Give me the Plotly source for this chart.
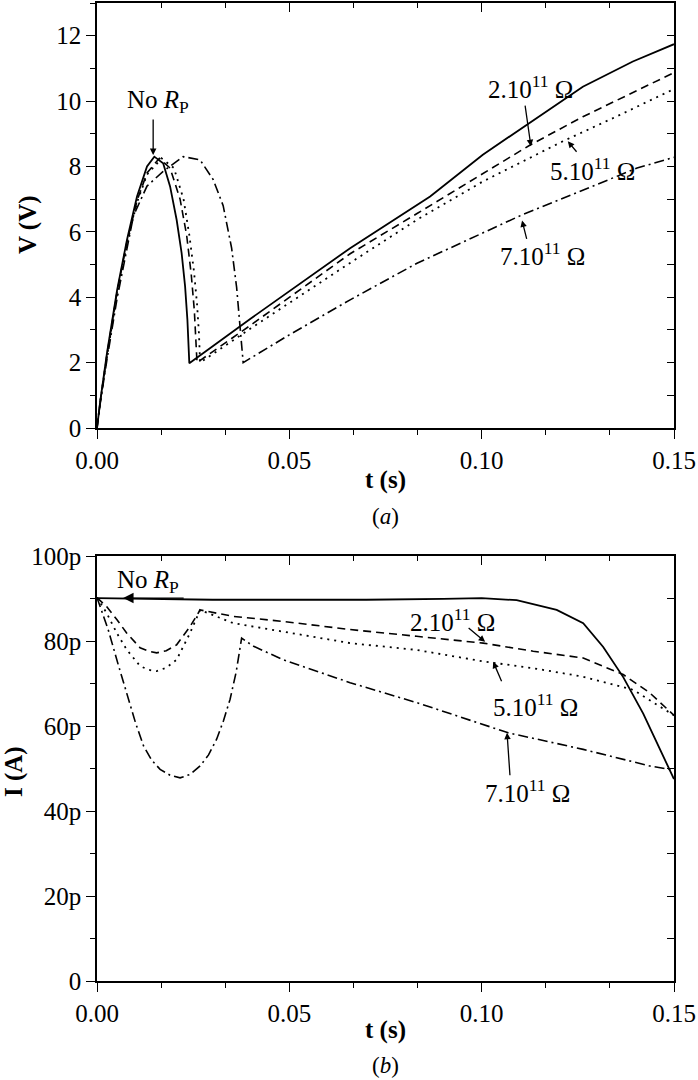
import plotly.graph_objects as go

# ---- panel (a): V(t) ----
ta_norp = [0, 0.0009, 0.0026, 0.0052, 0.0078, 0.0104, 0.013, 0.0149, 0.0172, 0.019, 0.0207, 0.022, 0.0229, 0.0235,
           0.024, 0.04, 0.0658, 0.0866, 0.1003, 0.1124, 0.1263, 0.1393, 0.15]
va_norp = [0, 0.87, 2.3, 4.2, 5.76, 7.08, 8.0, 8.3, 8.1, 7.39, 6.37, 5.35, 4.33, 3.31,
           1.98, 3.35, 5.5, 7.08, 8.36, 9.33, 10.44, 11.21, 11.74]

ta_2e11 = [0, 0.0009, 0.0026, 0.0052, 0.0078, 0.0104, 0.013, 0.0162, 0.019, 0.0216, 0.0233, 0.0245, 0.0253, 0.0258,
           0.026, 0.04, 0.0658, 0.0832, 0.1003, 0.1125, 0.1263, 0.15]
va_2e11 = [0, 0.85, 2.25, 4.15, 5.7, 6.95, 7.8, 8.25, 7.95, 7.0, 5.9, 4.7, 3.6, 2.7,
           2.0, 3.15, 5.33, 6.56, 7.78, 8.65, 9.52, 10.87]

ta_5e11 = [0, 0.0009, 0.0026, 0.0052, 0.0078, 0.0104, 0.013, 0.0168, 0.02, 0.0225, 0.024, 0.0252, 0.026, 0.0265,
           0.0268, 0.04, 0.0658, 0.0832, 0.1003, 0.1117, 0.1211, 0.1351, 0.15]
va_5e11 = [0, 0.84, 2.2, 4.1, 5.65, 6.9, 7.75, 8.25, 7.95, 7.0, 5.9, 4.8, 3.8, 2.9,
           2.0, 3.05, 5.05, 6.37, 7.54, 8.22, 8.77, 9.53, 10.37]

ta_7e11 = [0, 0.0009, 0.0026, 0.0052, 0.0095, 0.013, 0.0172, 0.0224, 0.0268, 0.0302, 0.0328, 0.035, 0.0363, 0.037,
           0.0374, 0.038, 0.05, 0.0658, 0.0832, 0.1105, 0.1404, 0.15]
va_7e11 = [0, 0.8, 2.1, 3.95, 6.5, 7.4, 7.85, 8.3, 8.2, 7.6, 6.8, 5.5, 4.3, 3.3,
           2.9, 2.0, 2.85, 3.92, 5.04, 6.52, 7.95, 8.28]

# ---- panel (b): I(t) in pA ----
tb_norp = [0, 0.01, 0.02, 0.03, 0.05, 0.07, 0.09, 0.1, 0.1091, 0.1143, 0.1195, 0.1264, 0.1316, 0.1368, 0.142, 0.15]
ib_norp = [90.1, 90.0, 89.9, 89.7, 89.7, 89.7, 89.9, 90.1, 89.6, 88.5, 87.3, 84.2, 78.6, 71.5, 62.9, 47.5]

tb_2e11 = [0, 0.0025, 0.0052, 0.0077, 0.0112, 0.0135, 0.0155, 0.018, 0.0207, 0.0242, 0.0268, 0.0354, 0.0484, 0.0658,
           0.0831, 0.1004, 0.1134, 0.1264, 0.1368, 0.1437, 0.15]
ib_2e11 = [90.2, 88.1, 85.0, 81.9, 78.4, 77.6, 77.2, 77.7, 79.1, 83.4, 87.3, 85.8, 84.6, 82.7,
           81.1, 79.5, 77.6, 76.0, 72.1, 67.8, 62.5]

tb_5e11 = [0, 0.0025, 0.0052, 0.0077, 0.0112, 0.0135, 0.0155, 0.018, 0.0207, 0.0242, 0.0268, 0.0354, 0.0484, 0.0658,
           0.0831, 0.1004, 0.1134, 0.1264, 0.1394, 0.15]
ib_5e11 = [90.2, 86.6, 81.8, 78.0, 74.1, 73.2, 72.9, 73.7, 75.6, 81.9, 87.3, 84.2, 82.2, 79.5,
           77.9, 75.2, 73.6, 71.6, 68.5, 62.5]

tb_7e11 = [0, 0.0029, 0.0055, 0.0077, 0.01, 0.0121, 0.0142, 0.0164, 0.019, 0.0216, 0.0242, 0.0268, 0.029, 0.0311,
           0.0329, 0.0346, 0.0362, 0.0376, 0.0406, 0.0484, 0.0658, 0.0831, 0.1069, 0.1264, 0.1437, 0.15]
ib_7e11 = [90.2, 82.7, 74.5, 67.8, 60.8, 55.3, 52.0, 49.8, 48.4, 47.8, 48.6, 50.6, 53.2, 56.9,
           61.3, 66.3, 72.8, 80.7, 78.8, 75.6, 70.2, 65.5, 58.4, 54.5, 50.6, 49.6]

i_ticks = [0, 20, 40, 60, 80, 100]
i_labels = ["0", "20p", "40p", "60p", "80p", "100p"]

FONT = "Liberation Serif"
styles = [("solid", 1.8), ("8px,5px", 1.6), ("2px,5px", 1.8), ("10px,4px,2px,4px", 1.6)]

fig = go.Figure()
for (t, v), (dash, w) in zip([(ta_norp, va_norp), (ta_2e11, va_2e11), (ta_5e11, va_5e11), (ta_7e11, va_7e11)], styles):
    fig.add_trace(go.Scatter(x=t, y=v, mode="lines", line=dict(color="black", width=w, dash=dash),
                             xaxis="x", yaxis="y", showlegend=False))
for (t, i), (dash, w) in zip([(tb_norp, ib_norp), (tb_2e11, ib_2e11), (tb_5e11, ib_5e11), (tb_7e11, ib_7e11)], styles):
    fig.add_trace(go.Scatter(x=t, y=i, mode="lines", line=dict(color="black", width=w, dash=dash),
                             xaxis="x2", yaxis="y2", showlegend=False))

xdom = [97 / 698, 674 / 698]
ydom_a = [1 - 428 / 1080, 1 - 3 / 1080]
ydom_b = [1 - 981 / 1080, 1 - 556 / 1080]

tickfont = dict(family=FONT, size=25, color="black")
base = dict(showgrid=False, zeroline=False, linecolor="black", linewidth=1.6, automargin=False,
            tickcolor="black", tickwidth=1.4, tickfont=tickfont)

xmain = dict(base, range=[0, 0.15], domain=xdom, ticks="outside", ticklen=9, tick0=0, dtick=0.05,
             tickformat=".2f", showline=True, mirror=True,
             minor=dict(ticks="outside", tick0=0, dtick=0.05 / 3, ticklen=5, tickcolor="black", tickwidth=1.4))
xtop = dict(base, range=[0, 0.15], ticks="inside", ticklen=9, tick0=0, dtick=0.05, showticklabels=False,
            side="top", showline=False,
            minor=dict(ticks="inside", tick0=0, dtick=0.05 / 3, ticklen=5, tickcolor="black", tickwidth=1.4))

fig.update_layout(
    width=698, height=1080, margin=dict(l=0, r=0, t=0, b=0, autoexpand=False),
    plot_bgcolor="white", paper_bgcolor="white",
    font=dict(family=FONT, size=25, color="black"),
    xaxis=dict(xmain, anchor="y"),
    yaxis=dict(base, domain=ydom_a, range=[0, 13], anchor="x", ticks="outside", ticklen=9, tick0=0, dtick=2,
               showline=True, mirror=True,
               minor=dict(ticks="outside", tick0=0, dtick=1, ticklen=5, tickcolor="black", tickwidth=1.4)),
    xaxis2=dict(xmain, anchor="y2"),
    yaxis2=dict(base, domain=ydom_b, range=[0, 100], anchor="x2", ticks="outside", ticklen=9,
                tickvals=i_ticks, ticktext=i_labels, showline=True, mirror=True,
                minor=dict(ticks="outside", tick0=0, dtick=10, ticklen=5, tickcolor="black", tickwidth=1.4)),
    xaxis3=dict(xtop, overlaying="x", anchor="y"),
    yaxis3=dict(base, range=[0, 13], overlaying="y", anchor="x", side="right", ticks="inside", ticklen=7,
                tick0=0, dtick=1, showticklabels=False),
    xaxis4=dict(xtop, overlaying="x2", anchor="y2"),
    yaxis4=dict(base, range=[0, 100], overlaying="y2", anchor="x2", side="right", ticks="inside", ticklen=7,
                tick0=0, dtick=10, showticklabels=False),
)

# keep the overlay axes alive
fig.add_trace(go.Scatter(x=[None], y=[None], xaxis="x3", yaxis="y3", showlegend=False, hoverinfo="skip"))
fig.add_trace(go.Scatter(x=[None], y=[None], xaxis="x4", yaxis="y4", showlegend=False, hoverinfo="skip"))

afont = dict(family=FONT, size=25, color="black")


def label(xref, yref, x, y, text):
    fig.add_annotation(x=x, y=y, xref=xref, yref=yref, text=text, showarrow=False, font=afont,
                       xanchor="center", yanchor="middle")


def arrow(xref, yref, x, y, ax, ay, head=2, size=1.0):
    fig.add_annotation(x=x, y=y, xref=xref, yref=yref, ax=ax, ay=ay, text="", showarrow=True,
                       arrowhead=head, arrowsize=size, arrowwidth=1.3, arrowcolor="black")


# panel (a) labels
label("x", "y", 0.0159, 9.98, "No <i>R</i><sub>P</sub>")
arrow("x", "y", 0.0146, 8.35, 0, -37)
label("x", "y", 0.1128, 10.44, "2.10<sup>11</sup> Ω")
arrow("x", "y", 0.1128, 8.62, -6, -42)
label("x", "y", 0.1289, 7.93, "5.10<sup>11</sup> Ω")
arrow("x", "y", 0.1224, 8.77, 10, 12)
label("x", "y", 0.1157, 5.33, "7.10<sup>11</sup> Ω")
arrow("x", "y", 0.1105, 6.35, 5, 20)

# panel (b) labels
label("x2", "y2", 0.0133, 93.9, "No <i>R</i><sub>P</sub>")
arrow("x2", "y2", 0.0068, 90.1, 62, 0, head=2, size=1.6)
label("x2", "y2", 0.0923, 84.9, "2.10<sup>11</sup> Ω")
arrow("x2", "y2", 0.1009, 79.8, -18, -15)
label("x2", "y2", 0.1139, 64.9, "5.10<sup>11</sup> Ω")
arrow("x2", "y2", 0.103, 75.1, 9, 21)
label("x2", "y2", 0.112, 44.7, "7.10<sup>11</sup> Ω")
arrow("x2", "y2", 0.1066, 58.4, 3, 44)

# axis titles and captions (paper coordinates, explicit anchors)
xmid = (97 + 674) / 2 / 698


def paper_text(px, py, text, size=25, angle=0):
    fig.add_annotation(x=px / 698, y=1 - py / 1080, xref="paper", yref="paper", text=text, showarrow=False,
                       textangle=angle, xanchor="center", yanchor="middle",
                       font=dict(family=FONT, size=size, color="black"))


paper_text(385.5, 480, "<b>t (s)</b>")
paper_text(385.5, 1030, "<b>t (s)</b>")
paper_text(28, 225, "<b>V (V)</b>", angle=-90)
paper_text(14, 772, "<b>I (A)</b>", angle=-90)
paper_text(385.5, 517, "(<i>a</i>)", size=23)
paper_text(385.5, 1065, "(<i>b</i>)", size=23)

# page body has a default 8px margin; drop it so the figure sits at the window corner
fig.write_html("out.html", config={"displayModeBar": False},
               post_script="document.body.style.margin='0';")
